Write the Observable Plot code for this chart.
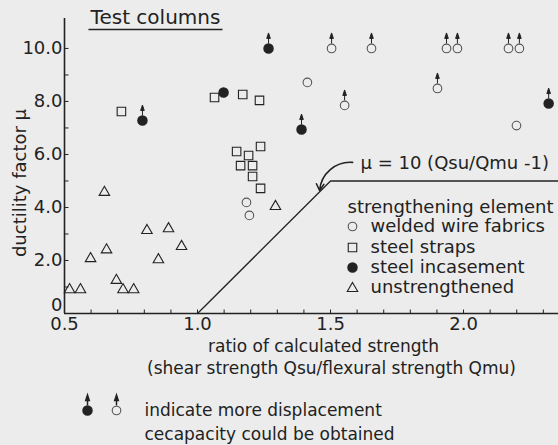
<!DOCTYPE html>
<html>
<head>
<meta charset="utf-8">
<script src="https://cdn.jsdelivr.net/npm/d3@7"></script>
<script src="https://cdn.jsdelivr.net/npm/@observablehq/plot@0.6"></script>
<style>
  html, body { margin: 0; padding: 0; background: #ececec; }
</style>
</head>
<body>
<div id="chart"></div>
<script>
// ---- data ----
// unstrengthened (open triangles)
const unX = [0.519, 0.56, 0.598, 0.65, 0.658, 0.695, 0.72, 0.76, 0.81, 0.853, 0.891, 0.94, 1.293];
const unY = [0.9, 0.9, 2.07, 4.57, 2.4, 1.25, 0.9, 0.9, 3.13, 2.03, 3.2, 2.53, 4.04];

// steel straps (open squares)
const ssX = [0.714, 1.064, 1.17, 1.233, 1.147, 1.192, 1.237, 1.162, 1.207, 1.207, 1.237];
const ssY = [7.62, 8.15, 8.26, 8.04, 6.11, 5.96, 6.3, 5.58, 5.58, 5.17, 4.72];

// welded wire fabrics (open circles); more = more displacement capacity obtainable
const wwX = [1.184, 1.195, 1.413, 2.199, 1.504, 1.654, 1.936, 1.977, 2.169, 2.21, 1.553, 1.902];
const wwY = [4.19, 3.7, 8.72, 7.09, 10.0, 10.0, 10.0, 10.0, 10.0, 10.0, 7.85, 8.49];
const wwMore = [false, false, false, false, true, true, true, true, true, true, true, true];

// steel incasement (filled circles)
const siX = [1.098, 0.793, 1.267, 1.391, 2.32];
const siY = [8.34, 7.28, 10.0, 6.94, 7.92];
const siMore = [false, true, true, true, true];

// design line mu = 10 (Qsu/Qmu - 1), capped at 5
const lineX = [1.0, 1.5, 2.357];
const lineY = [0, 5, 5];

// ticks
const xTickLabels = [0.5, 1.0, 1.5, 2.0];
const xMinorTicks = [0.5,0.6,0.7,0.8,0.9,1.0,1.1,1.2,1.3,1.4,1.5,1.6,1.7,1.8,1.9,2.0,2.1,2.2,2.3];
const yTickLabels = [2, 4, 6, 8, 10];
const yZeroLabel = [0];
const yMinorTicks = [0,1,2,3,4,5,6,7,8,9,10];

const legendLabels = ["welded wire fabrics", "steel straps", "steel incasement", "unstrengthened"];

// ---- build tables ----
const zipPts = (xs, ys, more) => xs.map((x, i) => ({x, y: ys[i], more: more ? more[i] : false}));
const un = zipPts(unX, unY);
const ss = zipPts(ssX, ssY);
const ww = zipPts(wwX, wwY, wwMore);
const si = zipPts(siX, siY, siMore);
const line = lineX.map((x, i) => ({x, y: lineY[i]}));

const ink = "#222";
const tickUp = {draw(c) { c.moveTo(0, 0); c.lineTo(0, -4); }};
const tickRight = {draw(c) { c.moveTo(0, 0); c.lineTo(4, 0); }};
const underline = {draw(c) { c.moveTo(-67, 0); c.lineTo(67, 0); }};
const upArrow = {draw(c) {
  c.moveTo(0, -5); c.lineTo(0, -10.5);
  c.moveTo(-1.8, -10); c.lineTo(0, -15.5); c.lineTo(1.8, -10); c.closePath();
}};

const legendOffsets = [208, 229, 249, 269];

const marks = [
  // axis lines
  Plot.ruleX([0.5], {stroke: ink, strokeWidth: 1.6}),
  Plot.ruleY([0], {stroke: ink, strokeWidth: 1.6}),
  // inward ticks
  Plot.dot(xMinorTicks, {x: d => d, frameAnchor: "bottom", symbol: tickUp, stroke: ink, fill: "none", strokeWidth: 1}),
  Plot.dot(yMinorTicks, {y: d => d, frameAnchor: "left", symbol: tickRight, stroke: ink, fill: "none", strokeWidth: 1}),
  Plot.axisX({ticks: xTickLabels, tickSize: 0, tickPadding: 4, tickFormat: d => d.toFixed(1), label: null, fontSize: 18, fill: ink}),
  Plot.axisY({ticks: yTickLabels, tickSize: 0, tickPadding: 2, tickFormat: d => d.toFixed(1), label: null, fontSize: 18, fill: ink}),
  Plot.axisY({ticks: yZeroLabel, tickSize: 0, tickPadding: 2, tickFormat: d => "0", label: null, fontSize: 18, fill: ink, dy: -8}),
  // design line
  Plot.line(line, {x: "x", y: "y", stroke: ink, strokeWidth: 1.3}),
  // points
  Plot.dot(un, {x: "x", y: "y", symbol: "triangle", r: 3.9, stroke: ink, fill: "none", strokeWidth: 1.1}),
  Plot.dot(ss, {x: "x", y: "y", symbol: "square", r: 4.8, stroke: ink, fill: "none", strokeWidth: 1.1}),
  Plot.dot(ww, {x: "x", y: "y", symbol: "circle", r: 4.3, stroke: "#555", fill: "none", strokeWidth: 1.1}),
  Plot.dot(si, {x: "x", y: "y", symbol: "circle", r: 4.5, stroke: ink, fill: ink}),
  Plot.dot(ww.filter(d => d.more).concat(si.filter(d => d.more)), {x: "x", y: "y", symbol: upArrow, stroke: ink, fill: ink, strokeWidth: 1}),
  // equation annotation
  Plot.arrow([{x1: 1.583, y1: 5.70, x2: 1.459, y2: 4.64}], {x1: "x1", y1: "y1", x2: "x2", y2: "y2", bend: -45, stroke: ink, strokeWidth: 1.6, headLength: 7}),
  Plot.text(["\u03bc = 10 (Qsu/Qmu -1)"], {frameAnchor: "top-left", dx: 296, dy: 145, textAnchor: "start", lineAnchor: "middle", fontSize: 18, fill: ink}),
  // title with underline
  Plot.text(["Test columns"], {frameAnchor: "top-left", dx: 91, dy: -1, textAnchor: "middle", lineAnchor: "middle", fontSize: 20, fill: ink}),
  Plot.dot([0], {frameAnchor: "top-left", dx: 91, dy: 11, symbol: underline, stroke: ink, fill: "none", strokeWidth: 1.3}),
  // y title
  Plot.text(["ductility factor \u03bc"], {frameAnchor: "left", dx: -44, dy: 17, rotate: -90, textAnchor: "middle", lineAnchor: "middle", fontSize: 18, fill: ink}),
  // x title
  Plot.text(["ratio of calculated strength"], {frameAnchor: "bottom", dx: 12, dy: 33, lineAnchor: "middle", fontSize: 17, fill: ink}),
  Plot.text(["(shear strength Qsu/flexural strength Qmu)"], {frameAnchor: "bottom", dx: 20, dy: 55, lineAnchor: "middle", fontSize: 17, fill: ink}),
  // legend
  Plot.text(["strengthening element"], {frameAnchor: "top-left", dx: 283, dy: 189, textAnchor: "start", lineAnchor: "middle", fontSize: 18, fill: ink}),
  Plot.dot([0], {frameAnchor: "top-left", dx: 288, dy: legendOffsets[0], symbol: "circle", r: 4.3, stroke: "#555", fill: "none", strokeWidth: 1.1}),
  Plot.dot([0], {frameAnchor: "top-left", dx: 288, dy: legendOffsets[1], symbol: "square", r: 4.8, stroke: ink, fill: "none", strokeWidth: 1.1}),
  Plot.dot([0], {frameAnchor: "top-left", dx: 288, dy: legendOffsets[2], symbol: "circle", r: 4.5, stroke: ink, fill: ink}),
  Plot.dot([0], {frameAnchor: "top-left", dx: 288, dy: legendOffsets[3] + 1, symbol: "triangle", r: 3.9, stroke: ink, fill: "none", strokeWidth: 1.1}),
  ...legendLabels.map((lab, i) => Plot.text([lab], {frameAnchor: "top-left", dx: 306, dy: legendOffsets[i], textAnchor: "start", lineAnchor: "middle", fontSize: 18, fill: ink})),
  // note below the chart
  Plot.dot([0], {frameAnchor: "bottom-left", dx: 23, dy: 97, symbol: "circle", r: 4.5, stroke: ink, fill: ink}),
  Plot.dot([0], {frameAnchor: "bottom-left", dx: 23, dy: 97, symbol: upArrow, stroke: ink, fill: ink}),
  Plot.dot([0], {frameAnchor: "bottom-left", dx: 52, dy: 97, symbol: "circle", r: 4.3, stroke: "#555", fill: "none", strokeWidth: 1.1}),
  Plot.dot([0], {frameAnchor: "bottom-left", dx: 52, dy: 97, symbol: upArrow, stroke: ink, fill: ink}),
  Plot.text(["indicate more displacement"], {frameAnchor: "bottom-left", dx: 80, dy: 97, textAnchor: "start", lineAnchor: "middle", fontSize: 17, fill: ink}),
  Plot.text(["cecapacity could be obtained"], {frameAnchor: "bottom-left", dx: 80, dy: 121, textAnchor: "start", lineAnchor: "middle", fontSize: 17, fill: ink})
];

const chart = Plot.plot({
  width: 558,
  height: 445,
  marginLeft: 64,
  marginRight: 0,
  marginTop: 18,
  marginBottom: 132,
  x: {domain: [0.5, 2.357]},
  y: {domain: [0, 11.13]},
  style: {background: "#ececec", color: ink, fontFamily: "'DejaVu Sans', sans-serif", fontSize: "18px", overflow: "visible"},
  marks
});
document.getElementById("chart").appendChild(chart);
</script>
</body>
</html>
